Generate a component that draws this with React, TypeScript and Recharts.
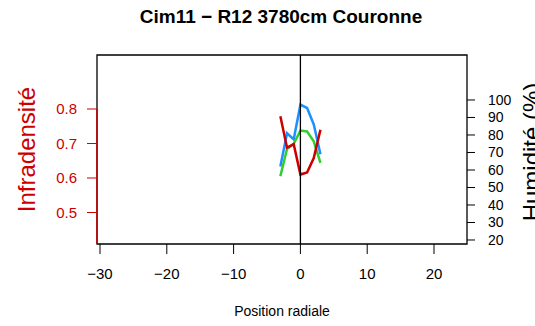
import {
  ComposedChart,
  Line,
  XAxis,
  YAxis,
  ReferenceLine,
  ReferenceArea,
  Label,
} from "recharts";

// radial positions (cm) and measured series
const positions = [-3, -2, -1, 0, 1, 2, 3];
const infradensite = [0.779, 0.688, 0.698, 0.61, 0.616, 0.658, 0.74];
const humiditeBleu = [62, 81, 77.5, 97.3, 95.4, 86, 69];
const humiditeVert = [56.5, 72, 75, 82.5, 82, 76.4, 64];

const xTicks = [-30, -20, -10, 0, 10, 20];
const infTicks = [0.5, 0.6, 0.7, 0.8];
const humTicks = [20, 30, 40, 50, 60, 70, 80, 90, 100];

const X_DOMAIN: [number, number] = [-30.45, 24.94];
const INF_DOMAIN: [number, number] = [0.4087, 0.9565];
const HUM_DOMAIN: [number, number] = [17.71, 125.7];

const RED = "#CD0000";
const BLUE = "#1E90FF";
const GREEN = "#32CD32";
const FONT = "'Liberation Sans', Arial, Helvetica, sans-serif";

const data = positions.map((x, i) => ({
  x,
  inf: infradensite[i],
  bleu: humiditeBleu[i],
  vert: humiditeVert[i],
}));

// R prints a real minus sign
const fmtMinus = (v: number) => String(v).replace("-", "\u2212");

export default function App() {
  return (
    <div
      style={{
        position: "absolute",
        left: 0,
        top: 0,
        width: 535,
        height: 326,
        background: "#fff",
        fontFamily: FONT,
      }}
    >
      <div
        style={{
          position: "absolute",
          left: 0,
          top: 7,
          width: 562,
          textAlign: "center",
          fontWeight: "bold",
          fontSize: 19,
          lineHeight: "20px",
          color: "#000",
        }}
      >
        Cim11 − R12 3780cm Couronne
      </div>
      <ComposedChart
        width={535}
        height={326}
        data={data}
        margin={{ top: 55, right: 0, bottom: 0, left: 0 }}
        style={{ fontFamily: FONT }}
      >
        <XAxis
          dataKey="x"
          type="number"
          domain={X_DOMAIN}
          ticks={xTicks}
          allowDataOverflow
          height={82}
          axisLine={false}
          tickLine={{ stroke: "#000" }}
          tickSize={10}
          tickMargin={14}
          tick={{ fill: "#000", fontSize: 15 }}
          tickFormatter={fmtMinus}
          interval={0}
        >
          <Label
            content={() => (
              <text
                x={282}
                y={316}
                textAnchor="middle"
                fontSize={14}
                fill="#000"
                fontFamily={FONT}
              >
                Position radiale
              </text>
            )}
          />
        </XAxis>
        <YAxis
          yAxisId="inf"
          orientation="left"
          type="number"
          domain={INF_DOMAIN}
          ticks={infTicks}
          allowDataOverflow
          width={97}
          axisLine={false}
          tickLine={{ stroke: RED }}
          tickSize={10}
          tickMargin={10}
          tick={{ fill: RED, fontSize: 15 }}
          interval={0}
        >
          <Label
            content={() => (
              <text
                x={35}
                y={149.5}
                transform="rotate(-90 35 149.5)"
                textAnchor="middle"
                fontSize={24}
                fill={RED}
                fontFamily={FONT}
              >
                Infradensité
              </text>
            )}
          />
        </YAxis>
        <YAxis
          yAxisId="hum"
          orientation="right"
          type="number"
          domain={HUM_DOMAIN}
          ticks={humTicks}
          allowDataOverflow
          width={68}
          axisLine={false}
          tickLine={{ stroke: "#000" }}
          tickSize={8}
          tickMargin={13}
          tick={{ fill: "#000", fontSize: 14 }}
          interval={0}
        >
          <Label
            content={() => (
              <text
                x={540}
                y={152}
                transform="rotate(-90 540 152)"
                textAnchor="middle"
                fontSize={24}
                fill="#000"
                fontFamily={FONT}
              >
                Humidité (%)
              </text>
            )}
          />
        </YAxis>

        <ReferenceArea
          yAxisId="hum"
          x1={X_DOMAIN[0]}
          x2={X_DOMAIN[1]}
          y1={HUM_DOMAIN[0]}
          y2={HUM_DOMAIN[1]}
          fill="none"
          stroke="#000"
          strokeWidth={1.3}
        />

        <Line
          yAxisId="hum"
          dataKey="bleu"
          stroke={BLUE}
          strokeWidth={2.5}
          dot={false}
          type="linear"
          isAnimationActive={false}
        />
        <Line
          yAxisId="hum"
          dataKey="vert"
          stroke={GREEN}
          strokeWidth={2.5}
          dot={false}
          type="linear"
          isAnimationActive={false}
        />
        <Line
          yAxisId="inf"
          dataKey="inf"
          stroke={RED}
          strokeWidth={2.5}
          dot={false}
          type="linear"
          isAnimationActive={false}
        />

        <ReferenceLine yAxisId="hum" x={0} stroke="#000" strokeWidth={1.3} />
        <ReferenceLine
          yAxisId="inf"
          segment={[
            { x: X_DOMAIN[0], y: INF_DOMAIN[0] },
            { x: X_DOMAIN[0], y: 0.8 },
          ]}
          stroke={RED}
          strokeWidth={1.5}
        />
      </ComposedChart>
    </div>
  );
}
